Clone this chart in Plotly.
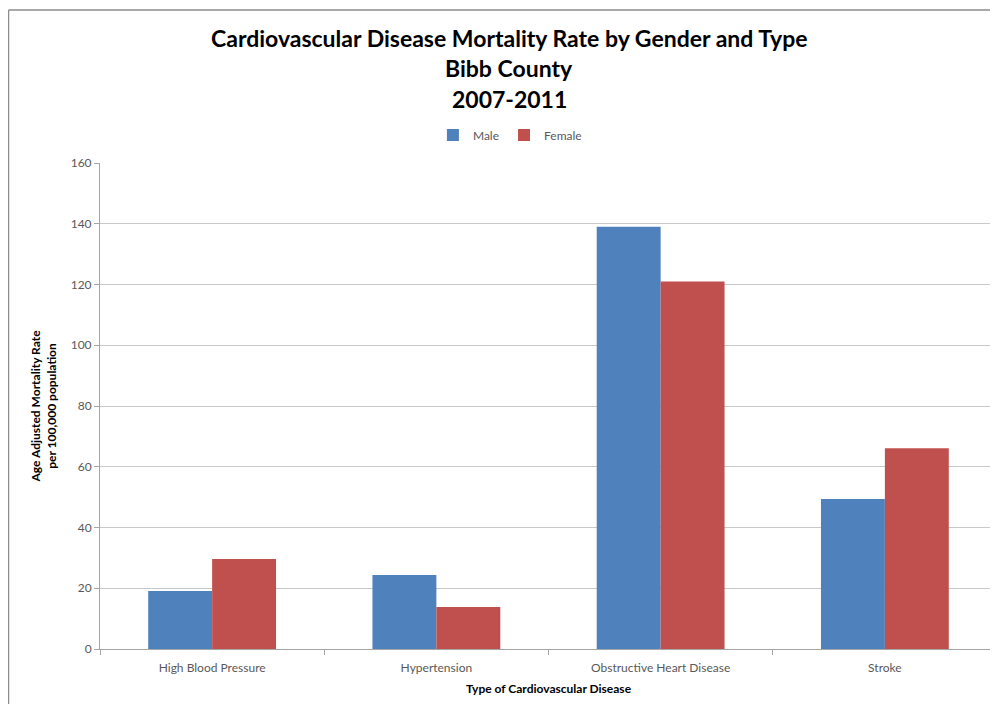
"""Cardiovascular disease mortality chart, Bibb County 2007-2011."""

import plotly.graph_objects as go

# Colours picked from the original chart
MALE_BLUE = "#4f81bd"
FEMALE_RED = "#c0504d"
GRID_GRAY = "#c8c8c8"
TEXT_GRAY = "#595959"
FONT = "Lato, 'Open Sans', sans-serif"

categories = ["High Blood Pressure", "Hypertension", "Obstructive Heart Disease", "Stroke"]
male_rate = [19.1, 24.4, 139.0, 49.4]
female_rate = [29.6, 13.8, 121.0, 66.1]
y_ticks = [0, 20, 40, 60, 80, 100, 120, 140, 160]
title_lines = ["Cardiovascular Disease Mortality Rate by Gender and Type", "Bibb County", "2007-2011"]

fig = go.Figure()

fig.add_trace(go.Bar(x=categories, y=male_rate, name="Male",
                     marker=dict(color=MALE_BLUE, line=dict(width=0))))
fig.add_trace(go.Bar(x=categories, y=female_rate, name="Female",
                     marker=dict(color=FEMALE_RED, line=dict(width=0))))

# outer chart frame (left and top edges visible in the original)
fig.add_shape(type="line", xref="paper", yref="paper",
              x0=-0.1020, x1=1.01, y0=1.3148, y1=1.3148,
              line=dict(color="#8c8c8c", width=1.5))
fig.add_shape(type="line", xref="paper", yref="paper",
              x0=-0.1020, x1=-0.1020, y0=1.3148, y1=-0.2,
              line=dict(color="#8c8c8c", width=1.5))

# title drawn line by line to keep the wide Excel line spacing
for line, ypos in zip(title_lines, [1.2572, 1.1955, 1.1317]):
    fig.add_annotation(text=line, xref="paper", yref="paper",
                       x=0.456, y=ypos, xanchor="center", yanchor="middle",
                       showarrow=False,
                       font=dict(family=FONT, size=23, color="black", weight="bold"))

fig.update_layout(
    width=990,
    height=696,
    barmode="group",
    bargap=0.43,
    bargroupgap=0,
    plot_bgcolor="white",
    paper_bgcolor="white",
    margin=dict(l=92, r=1, t=155, b=55, autoexpand=False),
    font=dict(family=FONT, color=TEXT_GRAY, size=12),
    legend=dict(
        orientation="h",
        x=0.457, xanchor="center",
        y=1.0576, yanchor="middle",
        font=dict(size=12, color=TEXT_GRAY),
        itemwidth=30,
        traceorder="normal",
    ),
    showlegend=True,
)

fig.update_xaxes(
    title=dict(text="Type of Cardiovascular Disease",
               font=dict(size=12, color="black", weight="bold"), standoff=10),
    showline=True, linecolor="#a6a6a6", linewidth=1,
    ticks="outside", ticklen=5, tickcolor="#a6a6a6",
    tickson="boundaries",
    ticklabelstandoff=8,
    showgrid=False,
    tickfont=dict(size=12, color=TEXT_GRAY),
)

fig.update_yaxes(
    title=dict(text="Age Adjusted Mortality Rate<br>per 100,000 population",
               font=dict(size=12, color="black", weight="bold"), standoff=11),
    range=[0, 160],
    tickvals=y_ticks,
    showline=True, linecolor="#a6a6a6", linewidth=1,
    ticks="outside", ticklen=5, tickcolor="#a6a6a6",
    showgrid=True, gridcolor=GRID_GRAY, gridwidth=1,
    zeroline=False,
    tickfont=dict(size=12, color=TEXT_GRAY),
)

fig.write_html("out.html")
